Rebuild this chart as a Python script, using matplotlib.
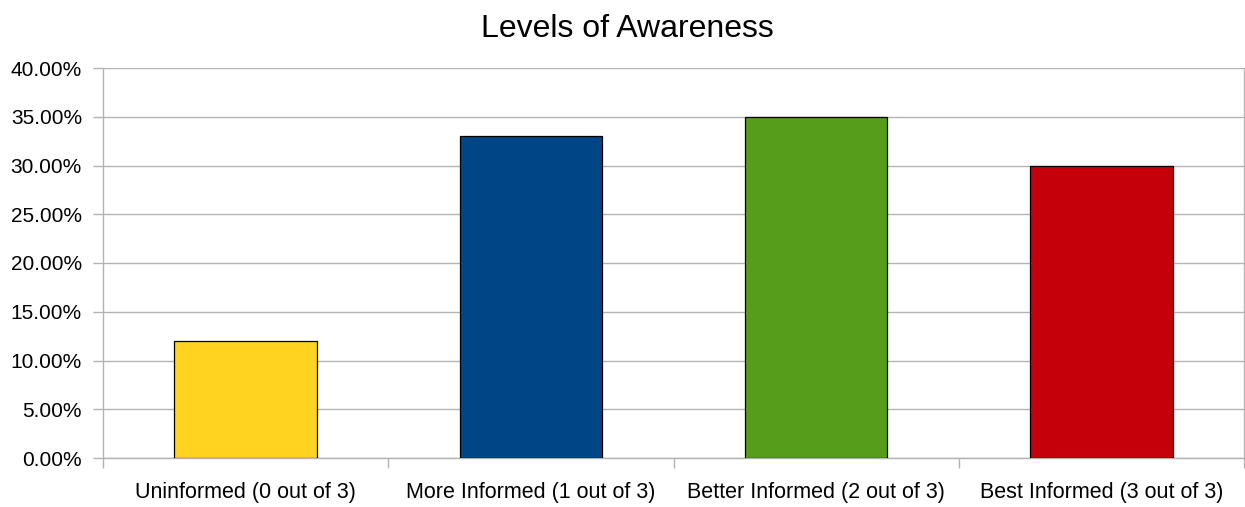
import matplotlib
matplotlib.use("Agg")
import matplotlib.pyplot as plt
from matplotlib.ticker import FuncFormatter, FixedLocator

categories = [
    "Uninformed (0 out of 3)",
    "More Informed (1 out of 3)",
    "Better Informed (2 out of 3)",
    "Best Informed (3 out of 3)",
]
values = [12.0, 33.0, 35.0, 30.0]
colors = ["#FFD320", "#004586", "#579D1C", "#C5000B"]
y_ticks = [0, 5, 10, 15, 20, 25, 30, 35, 40]

plt.rcParams["font.family"] = ["Liberation Sans", "DejaVu Sans"]

W, H = 1245, 507
fig = plt.figure(figsize=(W / 100, H / 100), dpi=100)
ax = fig.add_axes([103 / W, 49 / H, (1244 - 103) / W, (458 - 68) / H])

grid_c = "#b3b3b3"
x = list(range(len(categories)))
ax.bar(x, values, width=0.5, color=colors, edgecolor="black", linewidth=0.9, zorder=3)

ax.set_xlim(-0.5, len(categories) - 0.5)
ax.set_ylim(0, 40)

ax.yaxis.set_major_locator(FixedLocator(y_ticks))
ax.yaxis.set_major_formatter(FuncFormatter(lambda v, p: f"{v:.2f}%"))
ax.grid(axis="y", color=grid_c, linewidth=1.0, zorder=0)

# category boundaries carry the tick marks, centres carry the labels
ax.xaxis.set_major_locator(FixedLocator([i - 0.5 for i in range(len(categories) + 1)]))
ax.xaxis.set_major_formatter(FuncFormatter(lambda v, p: ""))
ax.xaxis.set_minor_locator(FixedLocator(x))
ax.set_xticklabels(categories, minor=True)

ax.tick_params(axis="x", which="major", length=7.2, width=1.0, color=grid_c, direction="out")
ax.tick_params(axis="x", which="minor", length=0, pad=17.5, labelsize=15.5)
ax.tick_params(axis="y", length=7.2, width=1.0, color=grid_c, direction="out", pad=8, labelsize=15)

for side in ["left", "right", "top", "bottom"]:
    ax.spines[side].set_color(grid_c)
    ax.spines[side].set_linewidth(1.0)
ax.spines["top"].set_visible(False)

fig.text(627.5 / W, (H - 37) / H, "Levels of Awareness", ha="center", va="baseline", fontsize=23)

fig.savefig("out.png", dpi=100, facecolor="white")
